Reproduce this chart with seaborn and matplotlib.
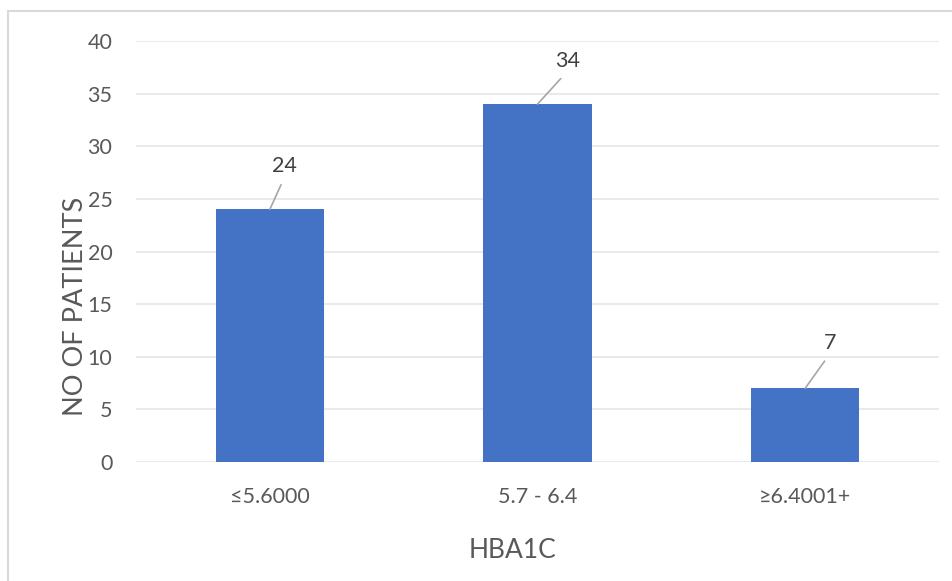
import matplotlib
matplotlib.use("Agg")
import matplotlib.pyplot as plt
from matplotlib.patches import Rectangle
import seaborn as sns
import pandas as pd

# HbA1c bands and patient counts
categories = ["≤5.6000", "5.7 - 6.4", "≥6.4001+"]
patients = [24, 34, 7]
y_ticks = [0, 5, 10, 15, 20, 25, 30, 35, 40]

# label placement (pixel offsets of each value label from its bar top)
label_offsets = [(15, 43), (30, 43), (25, 45)]

sns.set_theme(style="white")
plt.rcParams["font.family"] = ["Lato", "DejaVu Sans"]

W, H, DPI = 953, 581, 100
fig = plt.figure(figsize=(W / DPI, H / DPI), dpi=DPI)
ax = fig.add_axes([136 / W, 1 - 462 / H, (939 - 136) / W, (462 - 41) / H])

df = pd.DataFrame({"band": categories, "n": patients})
sns.barplot(data=df, x="band", y="n", order=categories, color="#4472C4",
            saturation=1, width=0.404, linewidth=0, ax=ax, zorder=3)

ax.set_xlim(-0.5, len(categories) - 0.5)
ax.set_ylim(0, 40)
ax.set_yticks(y_ticks)
ax.yaxis.grid(True, color="#E6E6E6", linewidth=1.2, zorder=0)
ax.xaxis.grid(False)
for s in ax.spines.values():
    s.set_visible(False)
ax.tick_params(axis="y", length=0, pad=17, labelsize=15.5, labelcolor="#595959")
ax.tick_params(axis="x", length=0, pad=18, labelsize=15.5, labelcolor="#595959")

ax.set_xlabel("HBA1C", fontsize=19, color="#595959")
ax.set_ylabel("NO OF PATIENTS", fontsize=19.5, color="#595959")
ax.xaxis.set_label_coords((513 - 136) / 803, -(550 - 462) / 421)
ax.xaxis.label.set_verticalalignment("center")
ax.yaxis.set_label_coords((76 - 136) / 803, 1 - (306 - 41) / 421)
ax.yaxis.label.set_verticalalignment("center")

# value labels with leader lines
for i, (v, (dx, dy)) in enumerate(zip(patients, label_offsets)):
    ax.annotate(str(v), xy=(i, v), xytext=(dx, dy), textcoords="offset pixels",
                ha="center", va="center", fontsize=15.5, color="#404040",
                arrowprops=dict(arrowstyle="-", color="#A6A6A6", lw=1.2,
                                relpos=(0.5, 0), shrinkA=4, shrinkB=0),
                zorder=4)

# chart area frame
fig.add_artist(Rectangle((8.5 / W, -0.1), 1.2, 1 - 10.5 / H + 0.1,
                         transform=fig.transFigure, fill=False,
                         edgecolor="#D9D9D9", linewidth=1.5))

fig.savefig("out.png", dpi=DPI, facecolor="white")
